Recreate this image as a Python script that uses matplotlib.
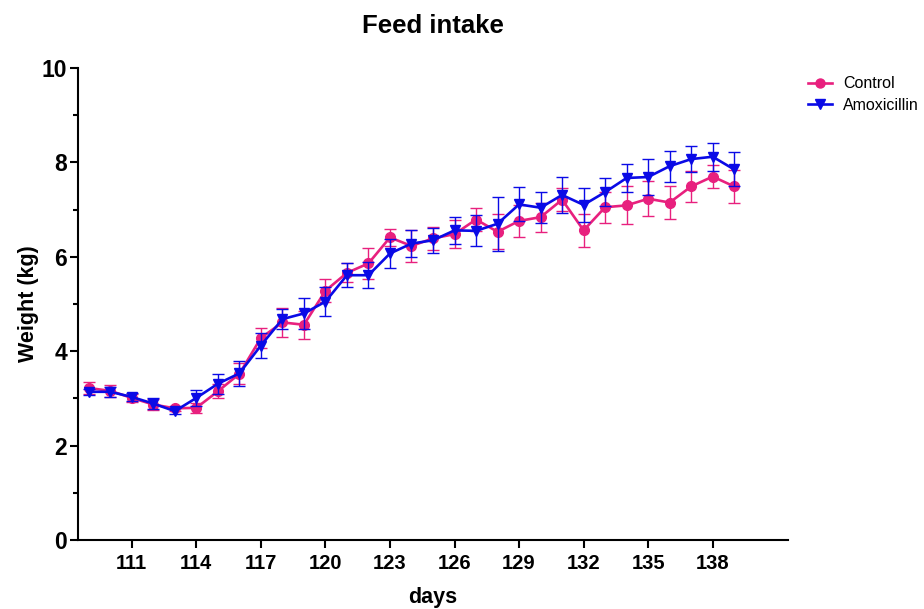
import matplotlib
matplotlib.use("Agg")
import matplotlib.pyplot as plt
from matplotlib.lines import Line2D

plt.rcParams['font.family'] = ['Liberation Sans', 'DejaVu Sans']

days = list(range(109, 140))

control = [3.22, 3.16, 3.01, 2.87, 2.79, 2.80, 3.15, 3.52, 4.28, 4.61,
           4.56, 5.28, 5.66, 5.86, 6.41, 6.23, 6.39, 6.48, 6.79, 6.53,
           6.76, 6.84, 7.21, 6.56, 7.05, 7.09, 7.23, 7.15, 7.49, 7.70, 7.49]
control_sem = [0.13, 0.12, 0.08, 0.12, 0.05, 0.10, 0.15, 0.22, 0.22, 0.30,
               0.30, 0.24, 0.20, 0.33, 0.18, 0.34, 0.25, 0.29, 0.25, 0.37,
               0.33, 0.31, 0.25, 0.35, 0.33, 0.40, 0.37, 0.34, 0.32, 0.25, 0.34]

amox = [3.14, 3.14, 3.03, 2.89, 2.73, 3.01, 3.31, 3.53, 4.12, 4.68,
        4.80, 5.05, 5.61, 5.61, 6.07, 6.28, 6.35, 6.56, 6.55, 6.70,
        7.11, 7.04, 7.31, 7.10, 7.37, 7.67, 7.69, 7.92, 8.07, 8.12, 7.85]
amox_sem = [0.06, 0.10, 0.08, 0.12, 0.06, 0.17, 0.21, 0.26, 0.27, 0.22,
            0.32, 0.30, 0.26, 0.28, 0.30, 0.28, 0.26, 0.28, 0.33, 0.57,
            0.36, 0.33, 0.39, 0.36, 0.30, 0.30, 0.38, 0.33, 0.27, 0.30, 0.36]

x_ticks = [111, 114, 117, 120, 123, 126, 129, 132, 135, 138]

pink = '#E8207E'
blue = '#0A0AE6'

fig = plt.figure(figsize=(9.24, 6.09), dpi=100)
ax = fig.add_axes([78 / 924, 1 - 540 / 609, 710 / 924, 472 / 609])

ax.errorbar(days, control, yerr=control_sem, color=pink, marker='o',
            markersize=7, linewidth=1.9, ecolor=pink, elinewidth=1.0,
            capsize=4, capthick=1.0, zorder=2)
ax.errorbar(days, amox, yerr=amox_sem, color=blue, marker='v',
            markersize=7.5, linewidth=1.9, ecolor=blue, elinewidth=1.0,
            capsize=4, capthick=1.0, zorder=3)

ax.set_xlim(108.5, 141.5)
ax.set_ylim(0, 10)
ax.set_xticks(x_ticks)
ax.set_yticks([0, 2, 4, 6, 8, 10])
ax.set_yticks([1, 3, 5, 7, 9], minor=True)

for s in ['top', 'right']:
    ax.spines[s].set_visible(False)
for s in ['left', 'bottom']:
    ax.spines[s].set_linewidth(1.5)

ax.tick_params(axis='y', which='major', length=6, width=1.5, labelsize=16.5, pad=2)
ax.tick_params(axis='y', which='minor', length=3.5, width=1.5)
ax.tick_params(axis='x', which='major', length=6, width=1.5, labelsize=14.5, pad=4)
for lab in ax.get_xticklabels() + ax.get_yticklabels():
    lab.set_fontweight('bold')

ax.set_xlabel('days', fontsize=15.5, fontweight='bold', labelpad=10)
ax.set_ylabel('Weight (kg)', fontsize=15.5, fontweight='bold', labelpad=2)
ax.set_title('Feed intake', fontsize=18.5, fontweight='bold', pad=25)

handles = [Line2D([], [], color=pink, marker='o', markersize=6.5, linewidth=1.9),
           Line2D([], [], color=blue, marker='v', markersize=7, linewidth=1.9)]
ax.legend(handles, ['Control', 'Amoxicillin'], loc='upper left',
          bbox_to_anchor=(1.019, 0.996), frameon=False, fontsize=11.5,
          handlelength=1.5, handletextpad=0.7, borderaxespad=0,
          labelspacing=0.4)

fig.savefig('out.png', dpi=100)
